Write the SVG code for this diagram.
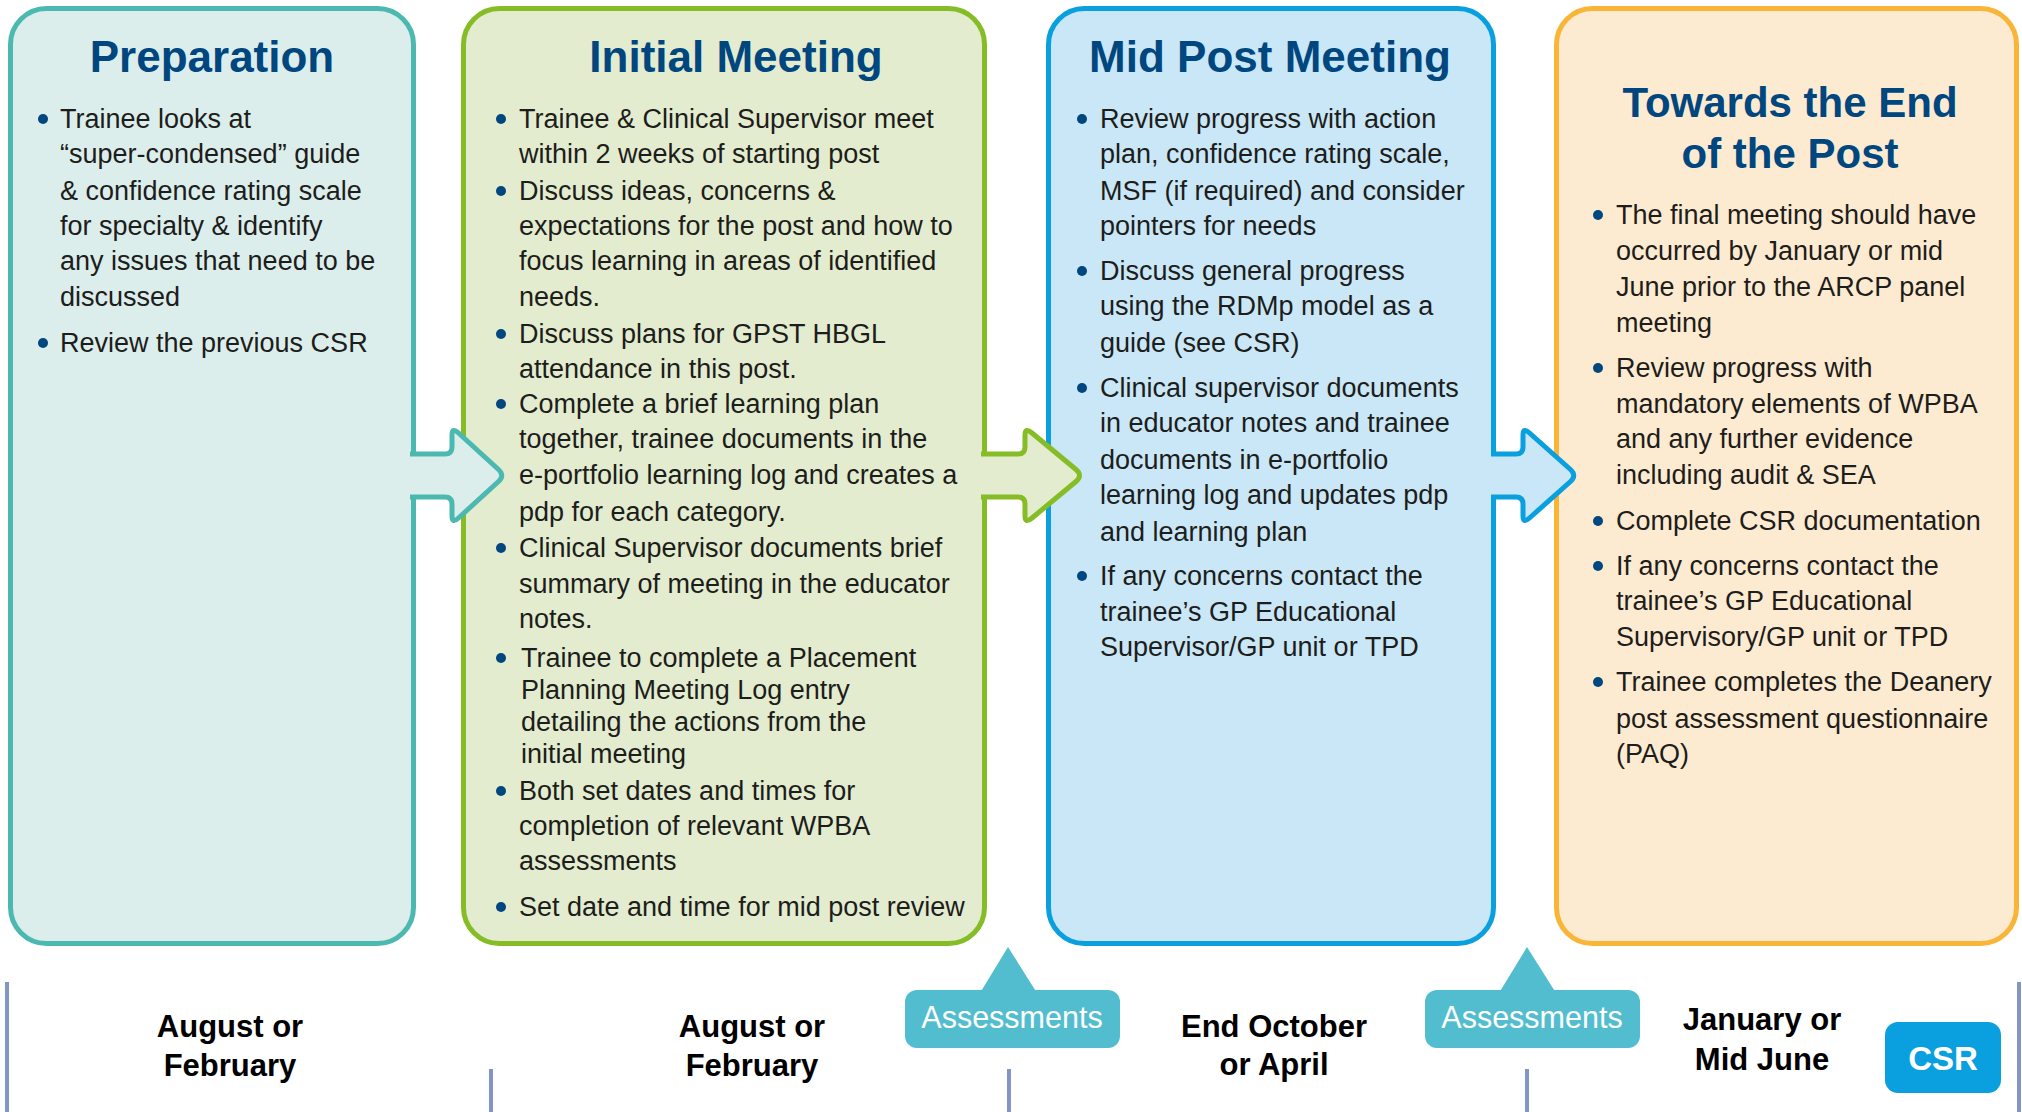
<svg xmlns="http://www.w3.org/2000/svg" width="2022" height="1112" viewBox="0 0 2022 1112">
<style>
.box{stroke-width:5}
.b1{fill:#DCEEEC;stroke:#4CB9B0}
.b2{fill:#E3ECCF;stroke:#86BC25}
.b3{fill:#C9E7F7;stroke:#0A9FDF}
.b4{fill:#FDEBD1;stroke:#F8B538}
.title{font-family:"Liberation Sans",Arial,sans-serif;font-weight:bold;font-size:44px;fill:#00467F;text-anchor:middle}
.t{font-family:"Liberation Sans",Arial,sans-serif;font-size:27px;fill:#1D1D1B}
.bul{fill:#00467F}
.date{font-family:"Liberation Sans",Arial,sans-serif;font-weight:bold;font-size:31px;fill:#000;text-anchor:middle}
.tick{stroke:#8395C3;stroke-width:4}
.call{fill:#52BDCF}
.callt{font-family:"Liberation Sans",Arial,sans-serif;font-size:30.5px;fill:#fff;text-anchor:middle}
.arr{stroke-width:5;stroke-linejoin:round}
</style>

<g id="node-preparation">
<rect class="box b1" x="10.5" y="8.5" width="403" height="935" rx="36"/>
<text class="title" x="212" y="72">Preparation</text>
<circle class="bul" cx="43" cy="119" r="5"/>
<circle class="bul" cx="43" cy="343" r="5"/>
<text class="t"><tspan x="60" y="128">Trainee looks at</tspan><tspan x="60" y="163">“super-condensed” guide</tspan><tspan x="60" y="200">&amp; confidence rating scale</tspan><tspan x="60" y="235">for specialty &amp; identify</tspan><tspan x="60" y="270">any issues that need to be</tspan><tspan x="60" y="306">discussed</tspan><tspan x="60" y="352">Review the previous CSR</tspan></text>
</g>

<g id="node-initial-meeting">
<rect class="box b2" x="463.5" y="8.5" width="521" height="935" rx="36"/>
<text class="title" x="736" y="72">Initial Meeting</text>
<circle class="bul" cx="501" cy="119" r="5"/>
<circle class="bul" cx="501" cy="191" r="5"/>
<circle class="bul" cx="501" cy="334" r="5"/>
<circle class="bul" cx="501" cy="404" r="5"/>
<circle class="bul" cx="501" cy="548" r="5"/>
<circle class="bul" cx="501" cy="658" r="5"/>
<circle class="bul" cx="501" cy="791" r="5"/>
<circle class="bul" cx="501" cy="907" r="5"/>
<text class="t"><tspan x="519" y="128">Trainee &amp; Clinical Supervisor meet</tspan><tspan x="519" y="163">within 2 weeks of starting post</tspan><tspan x="519" y="200">Discuss ideas, concerns &amp;</tspan><tspan x="519" y="235">expectations for the post and how to</tspan><tspan x="519" y="270">focus learning in areas of identified</tspan><tspan x="519" y="306">needs.</tspan><tspan x="519" y="343">Discuss plans for GPST HBGL</tspan><tspan x="519" y="378">attendance in this post.</tspan><tspan x="519" y="413">Complete a brief learning plan</tspan><tspan x="519" y="448">together, trainee documents in the</tspan><tspan x="519" y="484">e-portfolio learning log and creates a</tspan><tspan x="519" y="521">pdp for each category.</tspan><tspan x="519" y="557">Clinical Supervisor documents brief</tspan><tspan x="519" y="593">summary of meeting in the educator</tspan><tspan x="519" y="628">notes.</tspan><tspan x="521" y="667">Trainee to complete a Placement</tspan><tspan x="521" y="699">Planning Meeting Log entry</tspan><tspan x="521" y="731">detailing the actions from the</tspan><tspan x="521" y="763">initial meeting</tspan><tspan x="519" y="800">Both set dates and times for</tspan><tspan x="519" y="835">completion of relevant WPBA</tspan><tspan x="519" y="870">assessments</tspan><tspan x="519" y="916">Set date and time for mid post review</tspan></text>
</g>

<g id="node-mid-post-meeting">
<rect class="box b3" x="1048.5" y="8.5" width="445" height="935" rx="36"/>
<text class="title" x="1270" y="72">Mid Post Meeting</text>
<circle class="bul" cx="1082" cy="119" r="5"/>
<circle class="bul" cx="1082" cy="271" r="5"/>
<circle class="bul" cx="1082" cy="388" r="5"/>
<circle class="bul" cx="1082" cy="576" r="5"/>
<text class="t"><tspan x="1100" y="128">Review progress with action</tspan><tspan x="1100" y="163">plan, confidence rating scale,</tspan><tspan x="1100" y="200">MSF (if required) and consider</tspan><tspan x="1100" y="235">pointers for needs</tspan><tspan x="1100" y="280">Discuss general progress</tspan><tspan x="1100" y="315">using the RDMp model as a</tspan><tspan x="1100" y="352">guide (see CSR)</tspan><tspan x="1100" y="397">Clinical supervisor documents</tspan><tspan x="1100" y="432">in educator notes and trainee</tspan><tspan x="1100" y="469">documents in e-portfolio</tspan><tspan x="1100" y="504">learning log and updates pdp</tspan><tspan x="1100" y="541">and learning plan</tspan><tspan x="1100" y="585">If any concerns contact the</tspan><tspan x="1100" y="621">trainee’s GP Educational</tspan><tspan x="1100" y="656">Supervisor/GP unit or TPD</tspan></text>
</g>

<g id="node-towards-end">
<rect class="box b4" x="1556.5" y="8.5" width="460" height="935" rx="36"/>
<text class="title" style="font-size:42px"><tspan x="1790" y="117">Towards the End</tspan><tspan x="1790" y="168">of the Post</tspan></text>
<circle class="bul" cx="1598" cy="215" r="5"/>
<circle class="bul" cx="1598" cy="368" r="5"/>
<circle class="bul" cx="1598" cy="521" r="5"/>
<circle class="bul" cx="1598" cy="566" r="5"/>
<circle class="bul" cx="1598" cy="682" r="5"/>
<text class="t"><tspan x="1616" y="224">The final meeting should have</tspan><tspan x="1616" y="260">occurred by January or mid</tspan><tspan x="1616" y="296">June prior to the ARCP panel</tspan><tspan x="1616" y="332">meeting</tspan><tspan x="1616" y="377">Review progress with</tspan><tspan x="1616" y="413">mandatory elements of WPBA</tspan><tspan x="1616" y="448">and any further evidence</tspan><tspan x="1616" y="484">including audit &amp; SEA</tspan><tspan x="1616" y="530">Complete CSR documentation</tspan><tspan x="1616" y="575">If any concerns contact the</tspan><tspan x="1616" y="610">trainee’s GP Educational</tspan><tspan x="1616" y="646">Supervisory/GP unit or TPD</tspan><tspan x="1616" y="691">Trainee completes the Deanery</tspan><tspan x="1616" y="728">post assessment questionnaire</tspan><tspan x="1616" y="763">(PAQ)</tspan></text>
</g>

<g id="timeline">
<line class="tick" x1="7" y1="982" x2="7" y2="1112"/>
<line class="tick" x1="491" y1="1069" x2="491" y2="1112"/>
<line class="tick" x1="1009" y1="1069" x2="1009" y2="1112"/>
<line class="tick" x1="1527" y1="1069" x2="1527" y2="1112"/>
<line class="tick" x1="2019" y1="982" x2="2019" y2="1112"/>
</g>

<g id="date-aug-feb-1"><text class="date"><tspan x="230" y="1037">August or</tspan><tspan x="230" y="1076">February</tspan></text></g>
<g id="date-aug-feb-2"><text class="date"><tspan x="752" y="1037">August or</tspan><tspan x="752" y="1076">February</tspan></text></g>
<g id="date-oct-apr"><text class="date"><tspan x="1274" y="1037">End October</tspan><tspan x="1274" y="1075">or April</tspan></text></g>
<g id="date-jan-jun"><text class="date"><tspan x="1762" y="1030">January or</tspan><tspan x="1762" y="1070">Mid June</tspan></text></g>

<g id="assessments-1">
<path class="call" d="M1008 947 L1037 993 L980 993 Z"/>
<rect class="call" x="905" y="990" width="215" height="58" rx="12"/>
<text class="callt" x="1012" y="1028">Assessments</text>
</g>
<g id="assessments-2">
<path class="call" d="M1527 947 L1556 993 L1499 993 Z"/>
<rect class="call" x="1425" y="990" width="215" height="58" rx="12"/>
<text class="callt" x="1532" y="1028">Assessments</text>
</g>
<g id="csr">
<rect x="1885" y="1022" width="116" height="71" rx="13" fill="#0A9FDF"/>
<text x="1943" y="1070" font-family="Liberation Sans, Arial, sans-serif" font-weight="bold" font-size="33" fill="#fff" text-anchor="middle">CSR</text>
</g>

<g id="connectors">
<path class="arr b1" d="M410 454 H445 Q452 454 452 447 V435 Q452 427 458.5 433 L498.5 469.5 Q505 475.5 498.5 481.5 L458.5 518 Q452 524 452 516 V504 Q452 497 445 497 H410"/>
<path class="arr b2" d="M981 454 H1018 Q1025 454 1025 447 V435 Q1025 427 1032 433 L1076 469.5 Q1083 475.5 1076 481.5 L1032 518 Q1025 524 1025 516 V504 Q1025 497 1018 497 H981"/>
<path class="arr b3" d="M1491 454 H1516 Q1523 454 1523 447 V435 Q1523 427 1529.5 433 L1570.5 469.5 Q1577 475.5 1570.5 481.5 L1529.5 518 Q1523 524 1523 516 V504 Q1523 497 1516 497 H1491"/>
</g>
</svg>
